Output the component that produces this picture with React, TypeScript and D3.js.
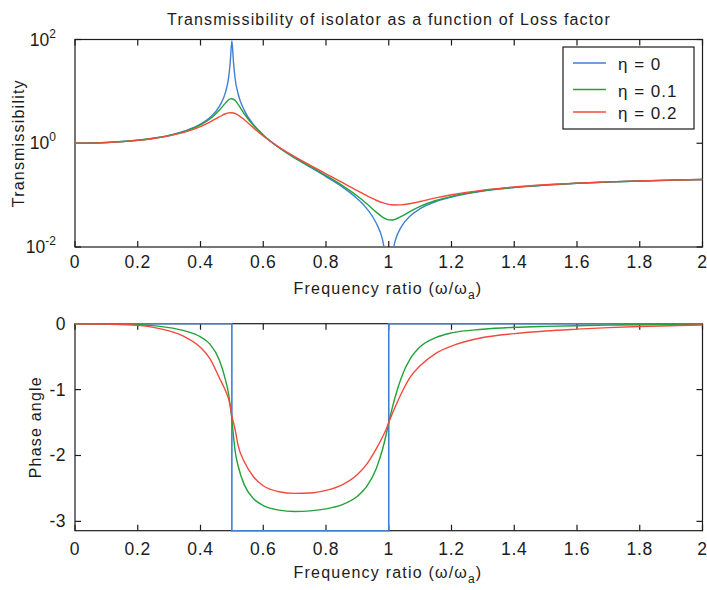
import React from "react";
import * as d3 from "d3";

// frequency ratio samples (ω/ωa)
const ratio = [0, 0.1, 0.2, 0.25, 0.3, 0.35, 0.4, 0.43, 0.46, 0.48, 0.49, 0.495, 0.5, 0.505, 0.51, 0.52, 0.54, 0.57, 0.6, 0.65, 0.7, 0.75, 0.8, 0.85, 0.9, 0.93, 0.96, 0.98, 0.99, 1.0, 1.01, 1.02, 1.04, 1.07, 1.1, 1.15, 1.2, 1.3, 1.4, 1.5, 1.6, 1.7, 1.8, 1.9, 2.0];

// transmissibility
const transEta0 = [1, 1.031, 1.143, 1.25, 1.42, 1.72, 2.33, 3.13, 5.13, 9.8, 19.2, 38, 95, 37, 18.3, 8.9, 4.26, 2.25, 1.45, 0.82, 0.52, 0.345, 0.228, 0.147, 0.085, 0.055, 0.029, 0.014, 0.0068, 0.004, 0.0065, 0.0128, 0.0245, 0.0405, 0.0547, 0.075, 0.092, 0.12, 0.14, 0.156, 0.169, 0.179, 0.187, 0.194, 0.2];
const transEta01 = [1, 1.031, 1.141, 1.246, 1.413, 1.7, 2.26, 2.94, 4.34, 6.0, 6.9, 7.15, 7.2, 7.05, 6.75, 5.6, 3.66, 2.16, 1.43, 0.83, 0.53, 0.355, 0.238, 0.156, 0.096, 0.068, 0.047, 0.0378, 0.0349, 0.0333, 0.0331, 0.0341, 0.0388, 0.0492, 0.0606, 0.0787, 0.0948, 0.1211, 0.1411, 0.1567, 0.1692, 0.1792, 0.1875, 0.1943, 0.2001];
const transEta02 = [1, 1.03, 1.136, 1.235, 1.39, 1.643, 2.097, 2.556, 3.225, 3.7, 3.85, 3.88, 3.87, 3.83, 3.75, 3.5, 2.83, 1.95, 1.38, 0.845, 0.55, 0.375, 0.258, 0.178, 0.122, 0.0975, 0.0797, 0.0716, 0.0687, 0.0665, 0.0651, 0.0644, 0.0648, 0.0689, 0.0754, 0.0884, 0.1015, 0.1247, 0.1433, 0.1582, 0.1702, 0.18, 0.188, 0.1947, 0.2004];

// phase angle
const phaseRatioEta0 = [0, 0.5, 0.5, 1.0, 1.0, 2.0];
const phaseEta0 = [0, 0, -3.1416, -3.1416, 0, 0];
const phaseEta01 = [0, -0.003, -0.015, -0.03, -0.06, -0.11, -0.2, -0.31, -0.55, -0.86, -1.08, -1.26, -1.45, -1.7, -1.92, -2.16, -2.45, -2.66, -2.76, -2.83, -2.85, -2.84, -2.81, -2.75, -2.62, -2.47, -2.2, -1.91, -1.72, -1.5, -1.3, -1.12, -0.82, -0.52, -0.35, -0.21, -0.14, -0.085, -0.055, -0.04, -0.03, -0.022, -0.016, -0.012, -0.01];
const phaseEta02 = [0, -0.006, -0.025, -0.055, -0.11, -0.2, -0.36, -0.53, -0.82, -1.02, -1.15, -1.25, -1.4, -1.5, -1.6, -1.85, -2.1, -2.33, -2.46, -2.55, -2.575, -2.57, -2.53, -2.45, -2.29, -2.13, -1.9, -1.72, -1.62, -1.5, -1.38, -1.27, -1.06, -0.8, -0.64, -0.45, -0.34, -0.21, -0.15, -0.11, -0.083, -0.06, -0.042, -0.03, -0.02];

const xTicks = [0, 0.2, 0.4, 0.6, 0.8, 1, 1.2, 1.4, 1.6, 1.8, 2];
const xTickLabels = ["0", "0.2", "0.4", "0.6", "0.8", "1", "1.2", "1.4", "1.6", "1.8", "2"];
const transTicks = [0.01, 1, 100];
const transTickExp = ["-2", "0", "2"];
const phaseTicks = [-3, -2, -1, 0];
const phaseTickLabels = ["-3", "-2", "-1", "0"];

const legendLabels = ["η = 0", "η = 0.1", "η = 0.2"];
const colors = ["#3f80d0", "#23a23a", "#f24a3e"];

const FONT = "'Liberation Sans', Arial, Helvetica, sans-serif";
const INK = "#1c1c1c";

export default function App() {
  const W = 707, H = 590;
  const L = 75, R = 702.5;
  const T1 = 39.5, B1 = 247;
  const T2 = 323.7, B2 = 530.7;

  const x = d3.scaleLinear().domain([0, 2]).range([L, R]);
  const yT = d3.scaleLog().domain([0.01, 100]).range([B1, T1]);
  const yP = d3.scaleLinear().domain([-Math.PI, 0]).range([B2, T2]);

  const transSeries = [transEta0, transEta01, transEta02];
  const phaseSeries = [phaseEta01, phaseEta02];

  const lineT = d3
    .line<number>()
    .x((_, i) => x(ratio[i]))
    .y((d) => yT(d))
    .curve(d3.curveMonotoneX);
  const lineP = d3
    .line<number>()
    .x((_, i) => x(ratio[i]))
    .y((d) => yP(d))
    .curve(d3.curveMonotoneX);
  const lineP0 = d3
    .line<number>()
    .x((_, i) => x(phaseRatioEta0[i]))
    .y((d) => yP(d));

  const tickLen = 6;
  const axisFrame = (top: number, bottom: number, yTicksPx: number[]) => (
    <g stroke={INK} strokeWidth={1.2} fill="none">
      <rect x={L} y={top} width={R - L} height={bottom - top} />
      {xTicks.map((t, i) => (
        <g key={"x" + i}>
          <line x1={x(t)} x2={x(t)} y1={bottom} y2={bottom - tickLen} />
          <line x1={x(t)} x2={x(t)} y1={top} y2={top + tickLen} />
        </g>
      ))}
      {yTicksPx.map((py, i) => (
        <g key={"y" + i}>
          <line x1={L} x2={L + tickLen} y1={py} y2={py} />
          <line x1={R} x2={R - tickLen} y1={py} y2={py} />
        </g>
      ))}
    </g>
  );

  const xLabels = (baseline: number) =>
    xTicks.map((t, i) => (
      <text key={i} x={x(t)} y={baseline} textAnchor="middle" fontSize={17.5} letterSpacing={0.8} fill={INK}>
        {xTickLabels[i]}
      </text>
    ));

  const freqLabel = (baseline: number) => (
    <text x={388} y={baseline} textAnchor="middle" fontSize={16} letterSpacing={1.2} fill={INK}>
      Frequency ratio (ω/ω
      <tspan fontSize={12} dy={5}>a</tspan>
      <tspan dy={-5}>)</tspan>
    </text>
  );

  return (
    <svg
      width={W}
      height={H}
      viewBox={`0 0 ${W} ${H}`}
      style={{ position: "absolute", left: 0, top: 0, background: "#fff" }}
      fontFamily={FONT}
    >
      <defs>
        <clipPath id="clipTop">
          <rect x={L} y={T1} width={R - L} height={B1 - T1} />
        </clipPath>
        <clipPath id="clipBot">
          <rect x={L - 2} y={T2 - 2} width={R - L + 4} height={B2 - T2 + 4} />
        </clipPath>
      </defs>
      <rect x={0} y={0} width={W} height={H} fill="#fff" />

      {/* Title */}
      <text x={389} y={25} textAnchor="middle" fontSize={16} letterSpacing={1.15} fill={INK}>
        Transmissibility of isolator as a function of Loss factor
      </text>

      {/* Top plot */}
      {axisFrame(T1, B1, transTicks.map((t) => yT(t)))}
      <g clipPath="url(#clipTop)" fill="none" strokeWidth={1.4}>
        {transSeries.map((s, i) => (
          <path key={i} d={lineT(s) || ""} stroke={colors[i]} />
        ))}
      </g>
      {transTicks.map((t, i) => (
        <text key={i} x={56} y={yT(t) + 6} textAnchor="end" fontSize={17.5} fill={INK}>
          10
          <tspan fontSize={12} dy={-8}>{transTickExp[i]}</tspan>
        </text>
      ))}
      {xLabels(268)}
      {freqLabel(294)}
      <text
        transform={`translate(24, ${(T1 + B1) / 2}) rotate(-90)`}
        textAnchor="middle"
        fontSize={16}
        letterSpacing={1.2}
        fill={INK}
      >
        Transmissibility
      </text>

      {/* Legend */}
      <g>
        <rect x={563} y={47} width={131} height={82} fill="#fff" stroke={INK} strokeWidth={1.2} />
        {legendLabels.map((lab, i) => {
          const ly = [63, 89.5, 112][i];
          return (
            <g key={i}>
              <line x1={573} x2={606} y1={ly} y2={ly} stroke={colors[i]} strokeWidth={1.4} />
              <text x={618} y={ly + 7} fontSize={17} letterSpacing={1} fill={INK}>
                {lab}
              </text>
            </g>
          );
        })}
      </g>

      {/* Bottom plot */}
      {axisFrame(T2, B2, phaseTicks.map((t) => yP(t)))}
      <g clipPath="url(#clipBot)" fill="none" strokeWidth={1.4}>
        <path d={lineP0(phaseEta0) || ""} stroke={colors[0]} strokeWidth={1.6} />
        {phaseSeries.map((s, i) => (
          <path key={i} d={lineP(s) || ""} stroke={colors[i + 1]} />
        ))}
      </g>
      {phaseTicks.map((t, i) => (
        <text key={i} x={66} y={yP(t) + 6} textAnchor="end" fontSize={17.5} letterSpacing={0.5} fill={INK}>
          {phaseTickLabels[i]}
        </text>
      ))}
      {xLabels(555)}
      {freqLabel(578)}
      <text
        transform={`translate(41, ${(T2 + B2) / 2}) rotate(-90)`}
        textAnchor="middle"
        fontSize={16}
        letterSpacing={1.2}
        fill={INK}
      >
        Phase angle
      </text>
    </svg>
  );
}
